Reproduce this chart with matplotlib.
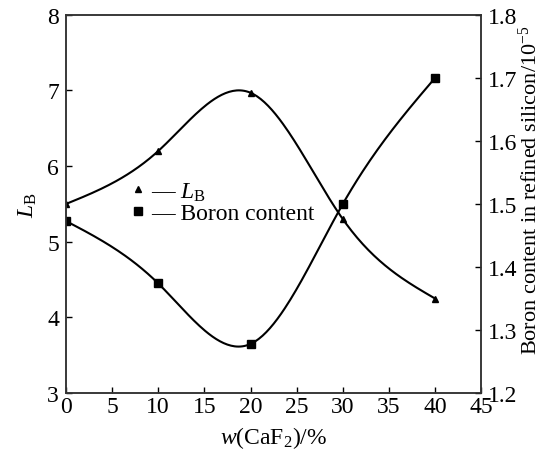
import numpy as np
import matplotlib
matplotlib.use("Agg")
import matplotlib.pyplot as plt
from matplotlib.lines import Line2D

plt.rcParams['font.family'] = ['Liberation Serif', 'DejaVu Serif']
plt.rcParams['mathtext.fontset'] = 'custom'
plt.rcParams['mathtext.rm'] = 'Liberation Serif'
plt.rcParams['mathtext.it'] = 'Liberation Serif:italic'

# data
caf2 = [0, 10, 20, 30, 40]
lb = [5.5, 6.2, 6.97, 5.3, 4.25]
boron = [1.473, 1.374, 1.278, 1.500, 1.700]


def spline(x, y, n=200):
    # natural cubic spline, only used to draw a smooth line through the points
    x = np.asarray(x, float)
    y = np.asarray(y, float)
    k = len(x)
    h = np.diff(x)
    A = np.zeros((k, k))
    r = np.zeros(k)
    A[0, 0] = A[-1, -1] = 1
    for i in range(1, k - 1):
        A[i, i - 1] = h[i - 1]
        A[i, i] = 2 * (h[i - 1] + h[i])
        A[i, i + 1] = h[i]
        r[i] = 6 * ((y[i + 1] - y[i]) / h[i] - (y[i] - y[i - 1]) / h[i - 1])
    m = np.linalg.solve(A, r)
    xs = np.linspace(x[0], x[-1], n)
    idx = np.clip(np.searchsorted(x, xs) - 1, 0, k - 2)
    t = xs - x[idx]
    hi = h[idx]
    a = (m[idx + 1] - m[idx]) / (6 * hi)
    b = m[idx] / 2
    c = (y[idx + 1] - y[idx]) / hi - hi * (2 * m[idx] + m[idx + 1]) / 6
    ys = y[idx] + c * t + b * t ** 2 + a * t ** 3
    return xs, ys


fig = plt.figure(figsize=(5.45, 4.52), dpi=100)
ax = fig.add_axes([0.121, 0.128, 0.762, 0.837])
ax2 = ax.twinx()

xs, ys = spline(caf2, lb)
ax.plot(xs, ys, color='black', lw=1.5)
ax.plot(caf2, lb, '^', color='black', ms=5)

xs, ys = spline(caf2, boron)
ax2.plot(xs, ys, color='black', lw=1.5)
ax2.plot(caf2, boron, 's', color='black', ms=5.5)

ax.set_xlim(0, 45)
ax.set_ylim(3, 8)
ax2.set_ylim(1.2, 1.8)
ax.set_xticks(range(0, 46, 5))
ax.set_yticks(range(3, 9))
ax2.set_yticks(np.arange(1.2, 1.81, 0.1))
ax2.set_yticklabels(['1.2', '1.3', '1.4', '1.5', '1.6', '1.7', '1.8'])

for a in (ax, ax2):
    a.tick_params(direction='in', length=4, width=1, labelsize=17, pad=5)
    for s in a.spines.values():
        s.set_linewidth(1.1)
        s.set_color('#333333')
ax.tick_params(axis='x', pad=2)

ax.set_xlabel(r'$\mathit{w}$(CaF$_2$)/%', fontsize=17, labelpad=5)
ax.set_ylabel(r'$\mathit{L}_\mathrm{B}$', fontsize=17, labelpad=6)
fig.text(0.972, 0.2146, r'Boron content in refined silicon/10$^{-5}$',
         fontsize=16, rotation=90, ha='center', va='bottom')

handles = [Line2D([], [], marker='^', ls='none', color='black', ms=5),
           Line2D([], [], marker='s', ls='none', color='black', ms=5.5)]
ax.legend(handles, [r'— $\mathit{L}_\mathrm{B}$', '— Boron content'],
          loc='upper left', bbox_to_anchor=(0.13, 0.594), frameon=False,
          fontsize=17, handlelength=0.5, handletextpad=0.3, labelspacing=0.0,
          borderpad=0)

fig.savefig('out.png', dpi=100)
